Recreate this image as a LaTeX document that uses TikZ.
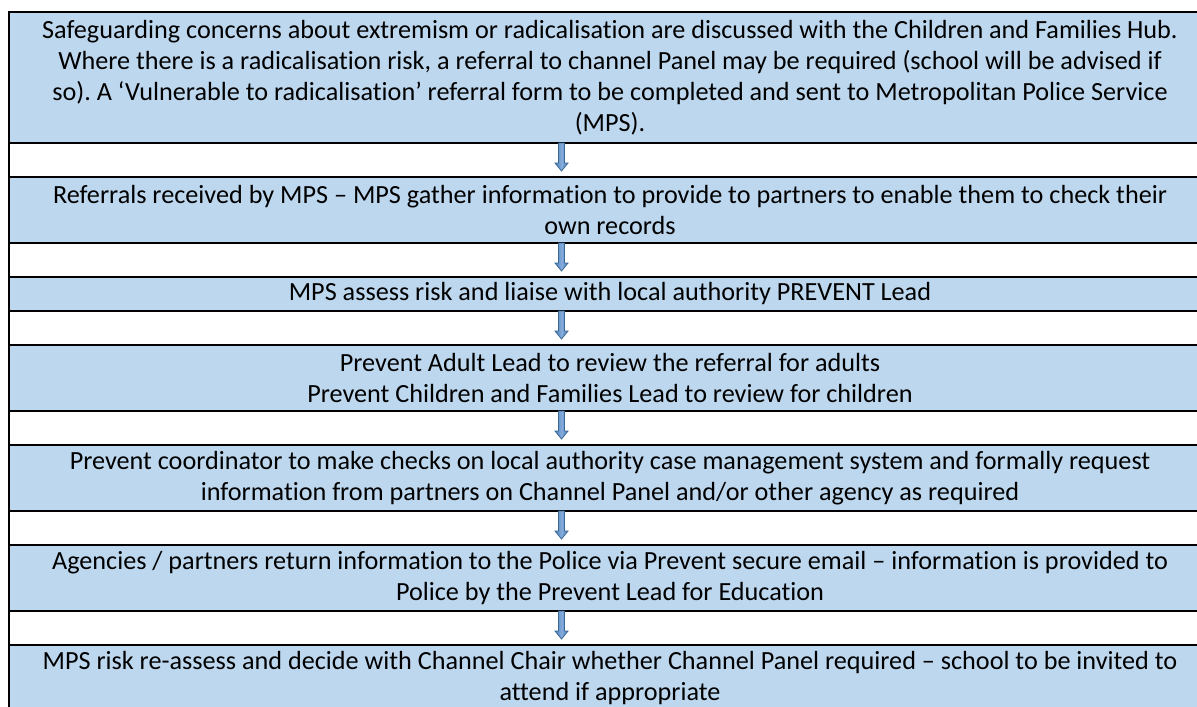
\documentclass[tikz,border=0pt]{standalone}
\usepackage{fontspec}
\setmainfont{Carlito}[Ligatures=NoCommon]
\usetikzlibrary{calc}
\definecolor{cellblue}{HTML}{BDD7EE}
\definecolor{arrowedge}{HTML}{3A6896}
\definecolor{arrowdark}{HTML}{4A7EBB}
\definecolor{arrowlight}{HTML}{86ADDB}
\tikzset{
  rowbox/.style={draw=black, line width=1pt, fill=cellblue, minimum width=601pt,
    inner sep=0pt, outer sep=0pt, align=center,
    font=\fontsize{13.1}{15.5}\selectfont\frenchspacing},
  gapbox/.style={draw=black, line width=1pt, fill=white, minimum width=601pt,
    minimum height=17pt, inner sep=0pt, outer sep=0pt},
  blockarrow/.style={draw=arrowedge, line width=0.4pt, left color=arrowdark,
    right color=arrowdark, middle color=arrowlight},
  pics/downarrow/.style={code={
    \path[blockarrow] (-3,0) -- (-3,20) -- (-6.5,20) -- (0,28) -- (6.5,20)
      -- (3,20) -- (3,0) -- cycle;}}
}
\begin{document}
\begin{tikzpicture}[x=0.5pt,y=-0.5pt]
\useasboundingbox (0,0) rectangle (1197,706);
\clip (0,0) rectangle (1197,706);
\coordinate (ax) at (561.5,0);
% blue rows
\node[rowbox, minimum height=65.5pt] (r1) at (610,77.5)
  {Safeguarding concerns about extremism or radicalisation are discussed with the Children and Families Hub.\\
   Where there is a radicalisation risk, a referral to channel Panel may be required (school will be advised if\\
   so). A ‘Vulnerable to radicalisation’ referral form to be completed and sent to Metropolitan Police Service\\
   (MPS).};
\node[gapbox] (w1) at (610,160) {};
\node[rowbox, minimum height=33pt] (r2) at (610,210)
  {Referrals received by MPS – MPS gather information to provide to partners to enable them to check their\\
   own records};
\node[gapbox] (w2) at (610,260) {};
\node[rowbox, minimum height=17pt] (r3) at (610,294)
  {MPS assess risk and liaise with local authority PREVENT Lead};
\node[gapbox] (w3) at (610,328) {};
\node[rowbox, minimum height=33pt] (r4) at (610,378)
  {Prevent Adult Lead to review the referral for adults\\
   Prevent Children and Families Lead to review for children};
\node[gapbox] (w4) at (610,428) {};
\node[rowbox, minimum height=33pt] (r5) at (610,478)
  {Prevent coordinator to make checks on local authority case management system and formally request\\
   information from partners on Channel Panel and/or other agency as required};
\node[gapbox] (w5) at (610,528) {};
\node[rowbox, minimum height=33pt] (r6) at (610,578)
  {Agencies / partners return information to the Police via Prevent secure email – information is provided to\\
   Police by the Prevent Lead for Education};
\node[gapbox] (w6) at (610,628) {};
\node[rowbox, minimum height=33pt] (r7) at (610,678)
  {MPS risk re-assess and decide with Channel Chair whether Channel Panel required – school to be invited to\\
   attend if appropriate};
% arrows
\pic at (r1.south -| ax) {downarrow};
\pic at (r2.south -| ax) {downarrow};
\pic at (r3.south -| ax) {downarrow};
\pic at (r4.south -| ax) {downarrow};
\pic at (r5.south -| ax) {downarrow};
\pic at (r6.south -| ax) {downarrow};
\end{tikzpicture}
\end{document}
